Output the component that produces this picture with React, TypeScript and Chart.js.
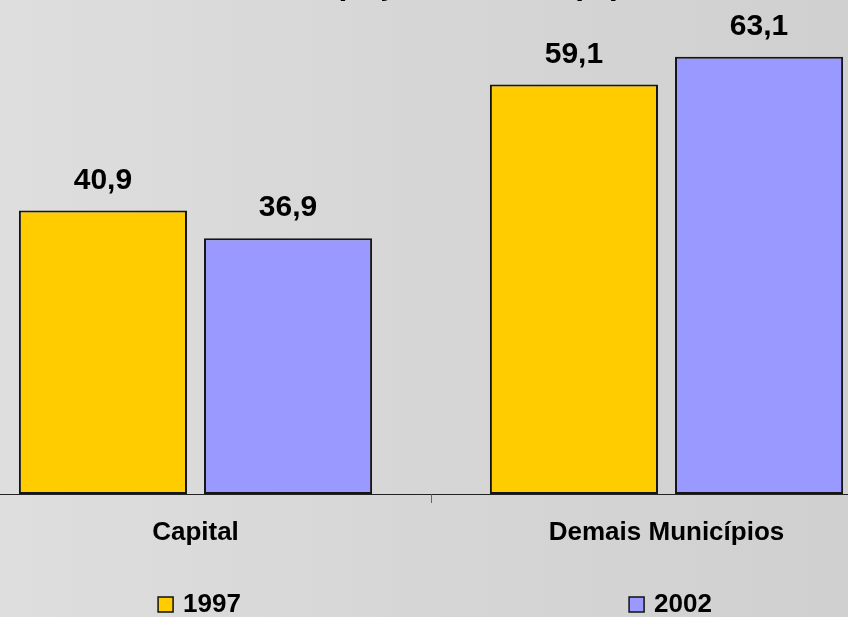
import React, { useEffect, useRef } from "react";
import { Chart, registerables } from "chart.js";

Chart.register(...registerables);

const titleText = "Participação Relativa (%)";
const categories = ["Capital", "Demais Municípios"];
const seriesLabels = ["1997", "2002"];
const values1997 = [40.9, 59.1];
const values2002 = [36.9, 63.1];
const seriesColors = ["#FFCC00", "#9999FF"];

const FONT = '"Liberation Sans", Arial, Helvetica, sans-serif';

const valueLabelsPlugin = {
  id: "valueLabels",
  afterDatasetsDraw(chart: any) {
    const ctx = chart.ctx;
    ctx.save();
    ctx.font = `bold 30px ${FONT}`;
    ctx.fillStyle = "#000";
    ctx.textAlign = "center";
    ctx.textBaseline = "alphabetic";
    chart.data.datasets.forEach((ds: any, di: number) => {
      const meta = chart.getDatasetMeta(di);
      meta.data.forEach((bar: any, i: number) => {
        const v = ds.data[i] as number;
        ctx.fillText(v.toFixed(1).replace(".", ","), bar.x, bar.y - 22);
      });
    });
    ctx.restore();
  },
};

const bottomLegendPlugin = {
  id: "bottomLegend",
  afterDraw(chart: any) {
    const ctx = chart.ctx;
    const xs = chart.scales.x;
    ctx.save();
    ctx.font = `bold 26px ${FONT}`;
    ctx.textAlign = "left";
    ctx.textBaseline = "alphabetic";
    const box = 15;
    const gap = 10;
    const baseY = chart.chartArea.bottom + 118;
    chart.data.datasets.forEach((ds: any, i: number) => {
      const cx = xs.getPixelForValue(i);
      const tw = ctx.measureText(ds.label).width;
      const w = box + gap + tw;
      const left = cx - w / 2 + 4;
      ctx.fillStyle = ds.backgroundColor;
      ctx.fillRect(left, baseY - box, box, box);
      ctx.lineWidth = 1.5;
      ctx.strokeStyle = "#111";
      ctx.strokeRect(left, baseY - box, box, box);
      ctx.fillStyle = "#000";
      ctx.fillText(ds.label, left + box + gap, baseY);
    });
    ctx.restore();
  },
};

export default function App() {
  const canvasRef = useRef<HTMLCanvasElement | null>(null);

  useEffect(() => {
    if (!canvasRef.current) return;
    const chart = new Chart(canvasRef.current, {
      type: "bar",
      data: {
        labels: categories,
        datasets: [
          {
            label: seriesLabels[0],
            data: values1997,
            backgroundColor: seriesColors[0],
            borderColor: "#151515",
            borderWidth: 2,
            borderSkipped: false,
            barPercentage: 0.908,
            categoryPercentage: 0.786,
          },
          {
            label: seriesLabels[1],
            data: values2002,
            backgroundColor: seriesColors[1],
            borderColor: "#151515",
            borderWidth: 2,
            borderSkipped: false,
            barPercentage: 0.908,
            categoryPercentage: 0.786,
          },
        ],
      },
      options: {
        responsive: false,
        animation: false,
        layout: { padding: 0 },
        plugins: {
          legend: { display: false },
          tooltip: { enabled: false },
          title: {
            display: true,
            text: titleText,
            color: "#000",
            font: { family: FONT, size: 32, weight: "bold", lineHeight: 1.2 },
            padding: { top: 5.5, bottom: 5.1 },
          },
        },
        scales: {
          y: {
            display: false,
            min: 0,
            max: 70,
          },
          x: {
            afterFit(scale: any) {
              scale.height = 123;
            },
            border: { display: true, color: "#222", width: 1 },
            grid: {
              offset: true,
              drawOnChartArea: false,
              drawTicks: true,
              tickLength: 9,
              color: "#666",
            },
            ticks: {
              color: "#000",
              padding: 14,
              font: { family: FONT, size: 26, weight: "bold" },
            },
          },
        },
      },
      plugins: [valueLabelsPlugin, bottomLegendPlugin],
    });
    return () => chart.destroy();
  }, []);

  return (
    <div
      style={{
        position: "fixed",
        left: 0,
        top: 0,
        width: 848,
        height: 617,
        overflow: "hidden",
        background: "linear-gradient(90deg, #dedede 0%, #d6d6d6 50%, #d0d0d0 100%)",
      }}
    >
      <canvas
        ref={canvasRef}
        width={942}
        height={657}
        style={{ position: "absolute", left: -40, top: -40, width: 942, height: 657 }}
      />
    </div>
  );
}
